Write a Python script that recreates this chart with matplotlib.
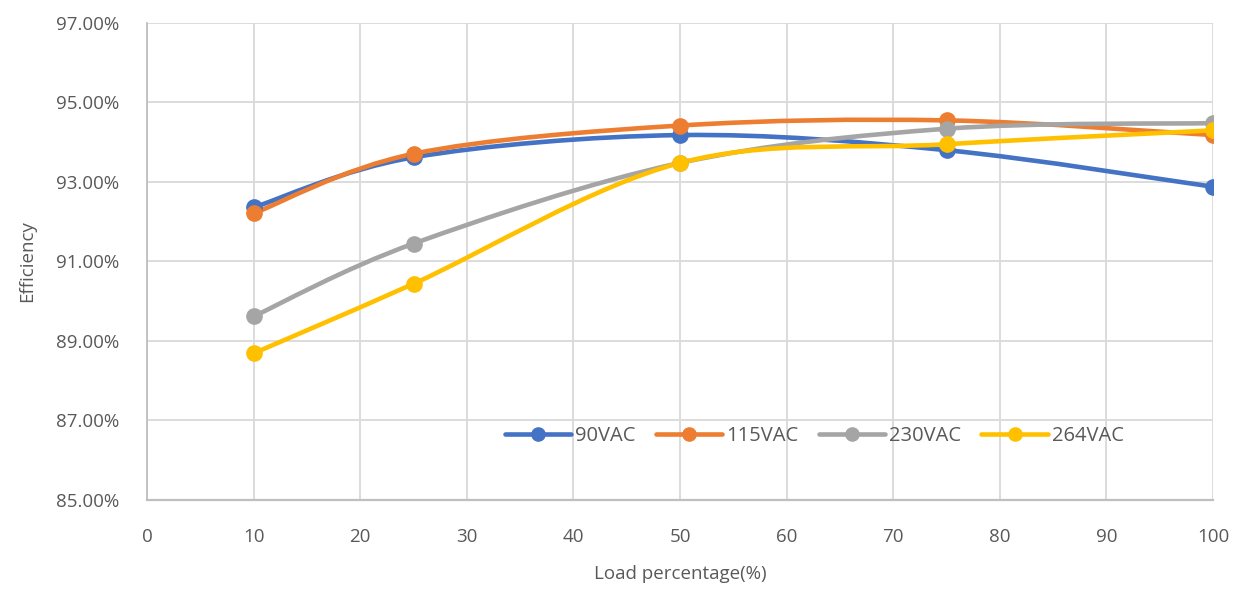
import matplotlib.pyplot as plt
import numpy as np
from matplotlib.path import Path
from matplotlib.patches import PathPatch
from matplotlib.lines import Line2D
from matplotlib.ticker import FuncFormatter

plt.rcParams["font.family"] = ["Open Sans", "DejaVu Sans"]

load = [10, 25, 50, 75, 100]
eff_90 = [92.36, 93.62, 94.18, 93.80, 92.88]
eff_115 = [92.21, 93.71, 94.42, 94.55, 94.18]
eff_230 = [89.62, 91.45, 93.48, 94.34, 94.48]
eff_264 = [88.69, 90.44, 93.48, 93.95, 94.30]

series = [
    ("90VAC", eff_90, "#4472C4"),
    ("115VAC", eff_115, "#ED7D31"),
    ("230VAC", eff_230, "#A5A5A5"),
    ("264VAC", eff_264, "#FFC000"),
]


def smooth_path(x, y):
    # Excel-like smoothed line: Catmull-Rom segments as cubic Bezier
    pts = np.column_stack([x, y]).astype(float)
    n = len(pts)
    verts = [pts[0]]
    codes = [Path.MOVETO]
    for i in range(n - 1):
        p0 = pts[i - 1] if i > 0 else pts[i]
        p1 = pts[i]
        p2 = pts[i + 1]
        p3 = pts[i + 2] if i + 2 < n else pts[i + 1]
        c1 = p1 + (p2 - p0) / 6
        c2 = p2 - (p3 - p1) / 6
        verts += [c1, c2, p2]
        codes += [Path.CURVE4] * 3
    return Path(verts, codes)


fig = plt.figure(figsize=(12.44, 6.05), dpi=100)
ax = fig.add_axes([0.1182, 0.1736, 0.8569, 0.7884])

text_color = "#595959"
handles = []
for name, vals, color in series:
    patch = PathPatch(smooth_path(load, vals), facecolor="none", edgecolor=color,
                      lw=3.3, capstyle="round", joinstyle="round", zorder=3)
    ax.add_patch(patch)
    ax.plot(load, vals, "o", color=color, markersize=11, zorder=4)
    handles.append(Line2D([], [], color=color, lw=3.3, marker="o", markersize=9.5,
                          solid_capstyle="round"))

ax.set_xlim(0, 100)
ax.set_ylim(85, 97)
ax.set_xticks(np.arange(0, 101, 10))
ax.set_yticks(np.arange(85, 97.1, 2))
ax.yaxis.set_major_formatter(FuncFormatter(lambda v, p: f"{v:.2f}%"))
ax.tick_params(length=0, labelsize=13.5, colors=text_color)
ax.tick_params(axis="y", pad=20)
ax.tick_params(axis="x", pad=20)

ax.grid(True, color="#D9D9D9", lw=1.3)
ax.set_axisbelow(True)
for s in ["top", "right"]:
    ax.spines[s].set_visible(False)
ax.spines["left"].set_color("#BFBFBF")
ax.spines["left"].set_linewidth(1.3)
ax.spines["bottom"].set_color("#BFBFBF")
ax.spines["bottom"].set_linewidth(1.6)

ax.set_xlabel("Load percentage(%)", fontsize=13.5, color=text_color, labelpad=14)
ax.set_ylabel("Efficiency", fontsize=13.5, color=text_color, labelpad=14)

ax.legend(handles, [s[0] for s in series], loc="center", bbox_to_anchor=(0.626, 0.135),
          ncol=4, frameon=False, fontsize=14.5, handlelength=3.3, columnspacing=1.0,
          handletextpad=0.2, labelcolor=text_color)

fig.savefig("out.png", dpi=100)
